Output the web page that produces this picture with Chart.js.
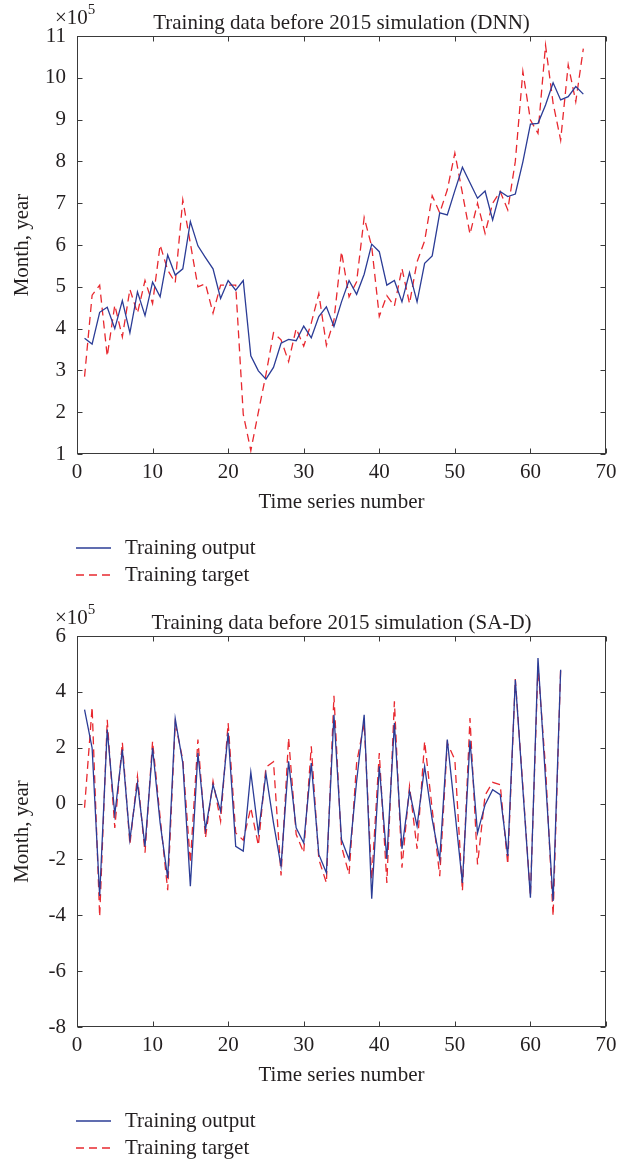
<!DOCTYPE html>
<html>
<head>
<meta charset="utf-8">
<script src="https://cdn.jsdelivr.net/npm/chart.js@4.4.1/dist/chart.umd.min.js"></script>
<style>
  html, body { margin: 0; padding: 0; background: #ffffff; }
  body { width: 634px; height: 1164px; position: relative; overflow: hidden; }
  canvas { position: absolute; left: 0; }
  #c1 { top: 0; }
  #c2 { top: 600px; }
</style>
</head>
<body>
<canvas id="c1" width="634" height="600"></canvas>
<canvas id="c2" width="634" height="564"></canvas>
<script>
// ---------------- data ----------------
const dnnTitle = "Training data before 2015 simulation (DNN)";
const saTitle = "Training data before 2015 simulation (SA-D)";
const xAxisTitle = "Time series number";
const yAxisTitle = "Month, year";
const legendLabels = ["Training output", "Training target"];
const xTicks = [0, 10, 20, 30, 40, 50, 60, 70];
const dnnYTicks = [1, 2, 3, 4, 5, 6, 7, 8, 9, 10, 11];
const saYTicks = [-8, -6, -4, -2, 0, 2, 4, 6];

// DNN (x 1..67), values in units of 1e5
const dnnOutput = [3.77, 3.63, 4.39, 4.51, 4.00, 4.67, 3.90, 4.88, 4.31, 5.11,
  4.76, 5.76, 5.28, 5.43, 6.56, 5.98, 5.70, 5.43, 4.72, 5.15,
  4.92, 5.15, 3.35, 2.99, 2.79, 3.07, 3.65, 3.74, 3.71, 4.06,
  3.78, 4.29, 4.52, 4.05, 4.64, 5.15, 4.82, 5.30, 6.02, 5.84,
  5.04, 5.15, 4.64, 5.34, 4.64, 5.56, 5.74, 6.77, 6.72, 7.30,
  7.86, 7.49, 7.12, 7.29, 6.60, 7.28, 7.16, 7.22, 7.99, 8.89,
  8.91, 9.35, 9.88, 9.47, 9.55, 9.79, 9.61];
const dnnTarget = [2.85, 4.80, 5.04, 3.34, 4.56, 3.80, 4.94, 4.37, 5.15, 4.60,
  6.00, 5.40, 5.10, 7.08, 6.04, 5.00, 5.07, 4.37, 5.04, 5.04,
  5.04, 1.95, 1.08, 2.00, 2.90, 3.90, 3.73, 3.21, 4.00, 3.58,
  4.13, 4.84, 3.60, 4.20, 5.84, 4.76, 5.12, 6.66, 5.96, 4.29,
  4.79, 4.54, 5.44, 4.60, 5.60, 6.10, 7.18, 6.77, 7.32, 8.20,
  7.24, 6.26, 7.00, 6.28, 7.00, 7.28, 6.84, 8.00, 10.15, 8.99,
  8.67, 10.78, 9.39, 8.51, 10.31, 9.43, 10.70];

// SA-D (x 1..64), values in units of 1e5
const saOutput = [3.36, 1.99, -3.31, 2.65, -0.39, 1.93, -1.29, 0.74, -1.53, 1.99,
  -0.69, -2.66, 3.04, 1.45, -2.96, 1.81, -0.93, 0.68, -0.27, 2.53,
  -1.53, -1.70, 1.12, -1.05, 1.07, -0.69, -2.24, 1.51, -0.87, -1.41,
  1.45, -1.82, -2.48, 3.18, -1.29, -2.00, 0.80, 3.18, -3.41, 1.33,
  -1.98, 2.88, -1.62, 0.44, -0.81, 1.33, -0.57, -2.00, 2.29, -0.27,
  -2.84, 2.26, -1.05, -0.04, 0.50, 0.32, -1.88, 4.43, 0.52, -3.37,
  5.21, 0.86, -3.49, 4.79];
const saTarget = [-0.15, 3.45, -4.05, 3.00, -0.87, 2.19, -1.47, 0.98, -1.76, 2.23,
  -0.50, -3.10, 2.88, 1.57, -2.12, 2.29, -1.23, 0.80, -0.63, 2.88,
  -1.05, -1.31, -0.15, -1.50, 1.30, 1.50, -2.57, 2.35, -1.10, -1.76,
  2.05, -2.00, -2.84, 3.86, -1.53, -2.54, 1.45, 2.88, -2.72, 1.81,
  -2.84, 3.66, -2.30, 0.62, -1.62, 2.23, -0.20, -2.60, 2.17, 1.57,
  -3.13, 3.06, -2.18, 0.30, 0.76, 0.68, -2.18, 4.46, 0.60, -3.31,
  4.91, 1.30, -4.03, 4.85];

// ---------------- styles ----------------
const FONT = "'Liberation Serif', 'DejaVu Serif', serif";
const TEXT = '#231f20';
const AXIS = '#3a3a3a';
const BLUE = '#2b3c96';
const RED = '#e8282f';
const FS = 21;

function toPoints(arr) { return arr.map((v, i) => ({ x: i + 1, y: v })); }

const framePlugin = {
  id: 'frame',
  afterDraw(chart, args, opts) {
    const ctx = chart.ctx;
    const a = chart.chartArea;
    const xs = chart.scales.x, ys = chart.scales.y;
    const L = Math.round(a.left) + 0.5, R = Math.round(a.right) - 0.5;
    const T = Math.round(a.top) + 0.5, B = Math.round(a.bottom) - 0.5;
    ctx.save();
    ctx.strokeStyle = AXIS;
    ctx.lineWidth = 1;
    ctx.setLineDash([]);
    ctx.strokeRect(L, T, R - L, B - T);
    const tl = 5;
    ctx.beginPath();
    xTicks.forEach(v => {
      const px = Math.round(xs.getPixelForValue(v)) + 0.5;
      ctx.moveTo(px, B); ctx.lineTo(px, B - tl);
      ctx.moveTo(px, T); ctx.lineTo(px, T + tl);
    });
    opts.yTicks.forEach(v => {
      const py = Math.round(ys.getPixelForValue(v)) + 0.5;
      ctx.moveTo(L, py); ctx.lineTo(L + tl, py);
      ctx.moveTo(R, py); ctx.lineTo(R - tl, py);
    });
    ctx.stroke();

    // title
    ctx.fillStyle = TEXT;
    ctx.font = FS + 'px ' + FONT;
    ctx.textAlign = 'center';
    ctx.textBaseline = 'alphabetic';
    ctx.fillText(opts.title, (a.left + a.right) / 2, a.top - 7);

    // exponent
    ctx.textAlign = 'left';
    ctx.font = FS + 'px ' + FONT;
    ctx.fillText('\u00d710', 55, a.top - 12);
    const w = ctx.measureText('\u00d710').width;
    ctx.font = Math.round(FS * 0.7) + 'px ' + FONT;
    ctx.fillText('5', 55 + w, a.top - 22);

    // legend
    const ly1 = a.bottom + 94, ly2 = a.bottom + 121;
    const lx0 = a.left - 1, lx1 = a.left + 34, tx = a.left + 48;
    ctx.lineWidth = 1.3;
    ctx.strokeStyle = BLUE;
    ctx.beginPath(); ctx.moveTo(lx0, ly1); ctx.lineTo(lx1, ly1); ctx.stroke();
    ctx.strokeStyle = RED;
    ctx.setLineDash([8, 5]);
    ctx.beginPath(); ctx.moveTo(lx0, ly2); ctx.lineTo(lx1, ly2); ctx.stroke();
    ctx.setLineDash([]);
    ctx.font = FS + 'px ' + FONT;
    ctx.textBaseline = 'middle';
    ctx.fillStyle = TEXT;
    ctx.fillText(legendLabels[0], tx, ly1);
    ctx.fillText(legendLabels[1], tx, ly2);
    ctx.restore();
  }
};

function makeChart(id, out, tgt, yTicks, title, padBottom) {
  const yMin = yTicks[0], yMax = yTicks[yTicks.length - 1];
  return new Chart(document.getElementById(id), {
    type: 'line',
    data: {
      datasets: [
        { label: legendLabels[0], data: toPoints(out), borderColor: BLUE, borderWidth: 1.3,
          pointRadius: 0, tension: 0, fill: false },
        { label: legendLabels[1], data: toPoints(tgt), borderColor: RED, borderWidth: 1.3,
          borderDash: [8, 5], pointRadius: 0, tension: 0, fill: false }
      ]
    },
    options: {
      responsive: false,
      animation: false,
      devicePixelRatio: 1,
      layout: { padding: { top: 36, right: 28, bottom: padBottom, left: 0 } },
      plugins: {
        legend: { display: false },
        tooltip: { enabled: false },
        title: { display: false },
        frame: { yTicks: yTicks, title: title }
      },
      scales: {
        x: {
          type: 'linear', min: xTicks[0], max: xTicks[xTicks.length - 1],
          afterBuildTicks: s => { s.ticks = xTicks.map(v => ({ value: v })); },
          afterFit: s => { s.height = 70; },
          grid: { display: false, drawTicks: false },
          border: { display: false },
          ticks: { color: TEXT, font: { family: FONT, size: FS }, padding: 6, maxRotation: 0,
                   autoSkip: false },
          title: { display: true, text: xAxisTitle, color: TEXT, font: { family: FONT, size: FS },
                   padding: { top: 0, bottom: 9 } }
        },
        y: {
          type: 'linear', min: yMin, max: yMax,
          afterBuildTicks: s => { s.ticks = yTicks.map(v => ({ value: v })); },
          afterFit: s => { s.width = 77; },
          grid: { display: false, drawTicks: false },
          border: { display: false },
          ticks: { color: TEXT, font: { family: FONT, size: FS }, padding: 11, autoSkip: false },
          title: { display: true, text: yAxisTitle, color: TEXT, font: { family: FONT, size: FS },
                   padding: { top: 10, bottom: 0 } }
        }
      }
    },
    plugins: [framePlugin]
  });
}

makeChart('c1', dnnOutput, dnnTarget, dnnYTicks, dnnTitle, 76);
makeChart('c2', saOutput, saTarget, saYTicks, saTitle, 67);
</script>
</body>
</html>
